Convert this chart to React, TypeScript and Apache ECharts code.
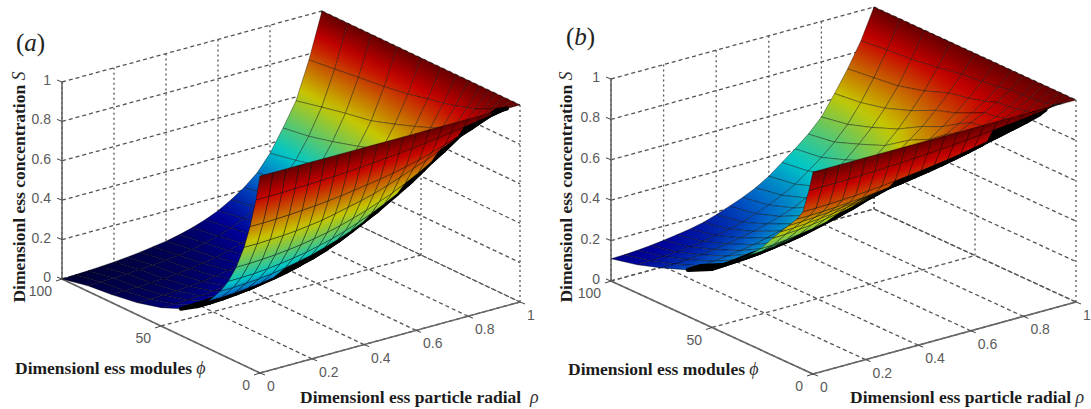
import React, { useEffect, useRef } from "react";
import * as echarts from "echarts";

// Grid of the surfaces
const rhoValues = [0, 0.05, 0.1, 0.15, 0.2, 0.25, 0.3, 0.35, 0.4, 0.45, 0.5, 0.55, 0.6, 0.65, 0.7, 0.75, 0.8, 0.85, 0.9, 0.95, 1];
const phiValues = [0, 2, 5, 8, 12, 16, 20, 26, 32, 40, 50, 62, 75, 87, 100];

// Tick labels
const rhoTicks = [0, 0.2, 0.4, 0.6, 0.8, 1];
const phiTicks = [0, 50, 100];
const sTicks = [0, 0.2, 0.4, 0.6, 0.8, 1];

// Concentration S x 1000, one row per phi, one column per rho
const surfaceA = [
  [1000, 1000, 1000, 1000, 1000, 1000, 1000, 1000, 1000, 1000, 1000, 1000, 1000, 1000, 1000, 1000, 1000, 1000, 1000, 1000, 1000],
  [870, 870, 871, 873, 875, 878, 881, 885, 890, 895, 901, 908, 915, 923, 932, 941, 951, 962, 974, 986, 1000],
  [720, 720, 722, 725, 730, 735, 742, 750, 760, 770, 780, 793, 808, 824, 845, 866, 889, 913, 940, 970, 1000],
  [600, 600, 603, 606, 612, 620, 630, 644, 660, 675, 693, 715, 740, 765, 790, 820, 850, 885, 920, 960, 1000],
  [480, 481, 484, 489, 496, 505, 517, 530, 547, 567, 588, 614, 640, 672, 706, 744, 785, 830, 880, 940, 1000],
  [389, 390, 393, 399, 407, 417, 429, 445, 462, 484, 508, 535, 566, 600, 640, 685, 736, 790, 854, 922, 1000],
  [320, 321, 325, 330, 338, 349, 362, 378, 397, 419, 444, 474, 508, 547, 590, 640, 695, 757, 830, 910, 1000],
  [242, 243, 246, 252, 259, 270, 283, 300, 318, 341, 368, 399, 436, 478, 525, 580, 642, 715, 796, 890, 1000],
  [186, 187, 190, 196, 203, 214, 226, 243, 262, 284, 310, 342, 379, 422, 471, 530, 598, 677, 768, 875, 1000],
  [135, 136, 139, 144, 150, 160, 171, 186, 204, 226, 252, 284, 320, 363, 414, 476, 549, 636, 736, 858, 1000],
  [93, 94, 96, 100, 106, 114, 124, 138, 154, 175, 199, 228, 264, 308, 360, 424, 497, 590, 700, 835, 1000],
  [61, 62, 64, 67, 72, 79, 88, 100, 114, 132, 154, 181, 214, 256, 306, 372, 451, 548, 660, 815, 1000],
  [40, 41, 43, 46, 50, 56, 63, 73, 84, 100, 120, 145, 176, 215, 264, 328, 405, 510, 636, 800, 1000],
  [28, 29, 31, 34, 38, 43, 49, 57, 67, 82, 100, 123, 153, 190, 236, 298, 376, 480, 610, 785, 1000],
  [0, 3, 6, 10, 14, 20, 28, 38, 48, 62, 80, 102, 130, 168, 212, 268, 350, 460, 580, 770, 1000],
];

const surfaceB = [
  [1000, 1000, 1000, 1000, 1000, 1000, 1000, 1000, 1000, 1000, 1000, 1000, 1000, 1000, 1000, 1000, 1000, 1000, 1000, 1000, 1000],
  [900, 900, 901, 902, 904, 906, 909, 912, 916, 920, 925, 930, 936, 942, 948, 955, 962, 970, 979, 989, 1000],
  [780, 781, 783, 786, 790, 795, 801, 808, 816, 824, 833, 843, 854, 866, 879, 893, 908, 924, 942, 970, 1000],
  [730, 731, 733, 737, 742, 748, 755, 763, 772, 782, 793, 805, 818, 832, 847, 866, 886, 908, 933, 965, 1000],
  [680, 682, 686, 691, 698, 706, 716, 727, 739, 752, 766, 782, 799, 817, 836, 856, 876, 899, 925, 960, 1000],
  [630, 632, 637, 643, 651, 661, 673, 687, 702, 718, 735, 755, 775, 796, 819, 841, 864, 889, 917, 955, 1000],
  [580, 583, 588, 595, 604, 615, 628, 643, 660, 678, 698, 721, 745, 771, 797, 823, 850, 879, 910, 952, 1000],
  [500, 503, 510, 520, 530, 544, 560, 578, 600, 624, 650, 680, 710, 745, 780, 808, 838, 870, 905, 948, 1000],
  [440, 443, 449, 458, 470, 485, 503, 523, 545, 570, 597, 629, 665, 699, 735, 770, 806, 842, 882, 935, 1000],
  [370, 373, 379, 388, 400, 414, 431, 450, 472, 497, 525, 556, 590, 627, 667, 710, 755, 805, 860, 925, 1000],
  [290, 293, 300, 310, 320, 333, 350, 370, 390, 417, 450, 484, 520, 563, 610, 660, 710, 772, 840, 915, 1000],
  [230, 232, 237, 245, 254, 266, 280, 297, 316, 340, 366, 398, 432, 473, 520, 578, 642, 715, 795, 893, 1000],
  [180, 182, 186, 192, 200, 210, 222, 236, 254, 274, 298, 330, 368, 415, 465, 525, 590, 668, 760, 875, 1000],
  [140, 142, 146, 151, 158, 167, 178, 192, 209, 233, 258, 288, 325, 372, 422, 480, 550, 640, 745, 865, 1000],
  [110, 112, 116, 122, 130, 140, 150, 165, 185, 210, 235, 265, 305, 355, 405, 460, 527, 625, 730, 850, 1000],
];

// View of each 3D box: screen position of the front corner and of the three axis spans
const viewA = { x0: 260, y0: 373, rx: 260, ry: -71, px: -198, py: -94, sy: -197 };
const viewB = { x0: 813, y0: 374, rx: 263, ry: -72, px: -202, py: -93, sy: -202 };

type View = typeof viewA;

const project = (v: View, rho: number, phi: number, s: number) => [
  v.x0 + v.rx * rho + (v.px * phi) / 100,
  v.y0 + v.ry * rho + (v.py * phi) / 100 + v.sy * s,
];

// Jet colour map, dimmed by the fine black mesh of the original (most in the dark blue part)
const jet = (t: number, shade: number) => {
  const low = t < 0.25 ? 0.5 + 2 * t : 1;
  const f = (d: number) => Math.round(255 * shade * low * Math.max(0, Math.min(1, 1.5 - Math.abs(4 * t - d))));
  return `rgb(${f(3)},${f(2)},${f(1)})`;
};

function surfaceSeries(view: View, table: number[][]) {
  const cells: number[][] = [];
  for (let i = phiValues.length - 2; i >= 0; i--) {
    for (let j = rhoValues.length - 2; j >= 0; j--) cells.push([i, j]);
  }
  const corner = (a: number, b: number) => project(view, rhoValues[b], phiValues[a], table[a][b] / 1000);
  // Signed projected area: its sign flips where the surface folds away from the viewer
  const signedArea = (i: number, j: number) => {
    const pts = [corner(i, j), corner(i, j + 1), corner(i + 1, j + 1), corner(i + 1, j)];
    let area = 0;
    pts.forEach((p, k) => {
      const q = pts[(k + 1) % 4];
      area += p[0] * q[1] - q[0] * p[1];
    });
    return area / 2;
  };
  const isFold = (i: number, j: number) => {
    const here = signedArea(i, j);
    const before = i > 0 ? signedArea(i - 1, j) : here;
    const after = i < phiValues.length - 2 ? signedArea(i + 1, j) : here;
    return here * before < 0 || here * after < 0;
  };
  return {
    type: "custom",
    silent: true,
    data: cells,
    renderItem: (_: any, api: any) => {
      const i = api.value(0);
      const j = api.value(1);
      const corners = [
        [i, j],
        [i, j + 1],
        [i + 1, j + 1],
        [i + 1, j],
      ];
      const values = corners.map(([a, b]) => table[a][b] / 1000);
      const points = corners.map(([a, b]) => api.coord(corner(a, b)));

      const unit = (rhoValues[j + 1] - rhoValues[j]) * ((phiValues[i + 1] - phiValues[i]) / 100);
      const density = Math.abs(signedArea(i, j)) / unit;
      const shade = 0.78 * Math.min(1, Math.pow(density / 11000, 2));

      if (isFold(i, j)) {
        return {
          type: "polygon",
          shape: { points },
          style: { fill: "#000", stroke: "#000", lineWidth: 4, lineJoin: "round" },
        };
      }

      // Colour runs across the cell along the screen direction in which S changes
      const ax = points[1][0] - points[0][0];
      const ay = points[1][1] - points[0][1];
      const bx = points[3][0] - points[0][0];
      const by = points[3][1] - points[0][1];
      const det = ax * by - ay * bx;
      const da = values[1] - values[0];
      const db = values[3] - values[0];
      let gx = det ? (da * by - db * ay) / det : 0;
      let gy = det ? (db * ax - da * bx) / det : 0;
      const len = Math.hypot(gx, gy) || 1;
      gx /= len;
      gy /= len;
      const along = points.map((p: number[]) => p[0] * gx + p[1] * gy);
      const lo = along.indexOf(Math.min(...along));
      const hi = along.indexOf(Math.max(...along));
      const mean = (values[0] + values[1] + values[2] + values[3]) / 4;
      const fill: any =
        values[lo] === values[hi] || lo === hi
          ? jet(mean, shade)
          : {
              type: "linear",
              global: true,
              x: points[lo][0],
              y: points[lo][1],
              x2: points[lo][0] + gx * (along[hi] - along[lo]),
              y2: points[lo][1] + gy * (along[hi] - along[lo]),
              colorStops: [0, 0.25, 0.5, 0.75, 1].map((o) => ({
                offset: o,
                color: jet(values[lo] + (values[hi] - values[lo]) * o, shade),
              })),
            };
      return {
        type: "polygon",
        shape: { points },
        style: { fill, stroke: "rgba(0,0,0,0.45)", lineWidth: 0.8 },
      };
    },
  };
}

function frameSeries(view: View) {
  type Seg = { a: number[]; b: number[]; kind: string };
  const segs: Seg[] = [];
  rhoTicks.forEach((r) => {
    segs.push({ a: [r, 0, 0], b: [r, 100, 0], kind: "dash" });
    segs.push({ a: [r, 100, 0], b: [r, 100, 1], kind: "dot" });
  });
  phiTicks.forEach((p) => {
    segs.push({ a: [0, p, 0], b: [1, p, 0], kind: "dash" });
    segs.push({ a: [1, p, 0], b: [1, p, 1], kind: "dot" });
  });
  sTicks.forEach((s) => {
    segs.push({ a: [0, 100, s], b: [1, 100, s], kind: "dash" });
    segs.push({ a: [1, 100, s], b: [1, 0, s], kind: "dash" });
  });
  segs.push({ a: [0, 100, 0], b: [0, 100, 1], kind: "axis" });
  segs.push({ a: [0, 100, 0], b: [0, 0, 0], kind: "axis" });
  segs.push({ a: [0, 0, 0], b: [1, 0, 0], kind: "axis" });
  return {
    type: "custom",
    silent: true,
    data: segs.map((_, i) => [i]),
    renderItem: (_: any, api: any) => {
      const seg = segs[api.value(0)];
      const p = api.coord(project(view, seg.a[0], seg.a[1], seg.a[2]));
      const q = api.coord(project(view, seg.b[0], seg.b[1], seg.b[2]));
      const style: any =
        seg.kind === "axis"
          ? { stroke: "#666", lineWidth: 1.6 }
          : { stroke: "#555", lineWidth: 1.3, lineDash: seg.kind === "dot" ? [2, 3] : [4, 3] };
      return { type: "line", shape: { x1: p[0], y1: p[1], x2: q[0], y2: q[1] }, style };
    },
  };
}

function tickSeries(view: View) {
  type Tick = { at: number[]; text: string; dx: number; dy: number; align: string; tx: number; ty: number };
  const ticks: Tick[] = [];
  sTicks.forEach((s) => ticks.push({ at: [0, 100, s], text: String(s), dx: -11, dy: -2, align: "right", tx: -5, ty: -2 }));
  phiTicks.forEach((p) => ticks.push({ at: [0, p, 0], text: String(p), dx: -10, dy: 12, align: "right", tx: -6, ty: 2 }));
  rhoTicks.forEach((r) => ticks.push({ at: [r, 0, 0], text: String(r), dx: 7, dy: 13, align: "left", tx: 5, ty: 2 }));
  return {
    type: "custom",
    silent: true,
    data: ticks.map((_, i) => [i]),
    renderItem: (_: any, api: any) => {
      const t = ticks[api.value(0)];
      const p = api.coord(project(view, t.at[0], t.at[1], t.at[2]));
      return {
        type: "group",
        children: [
          {
            type: "line",
            shape: { x1: p[0], y1: p[1], x2: p[0] + t.tx, y2: p[1] + t.ty },
            style: { stroke: "#444", lineWidth: 1 },
          },
          {
            type: "text",
            x: p[0] + t.dx,
            y: p[1] + t.dy,
            style: {
              text: t.text,
              fill: "#5a5a5a",
              font: "14px 'Liberation Sans'",
              textAlign: t.align,
              textVerticalAlign: "middle",
            },
          },
        ],
      };
    },
  };
}

const titleFont = "bold 17.5px 'Liberation Serif'";
const symbolRich = {
  i: { font: "italic 18px 'Liberation Serif'", fill: "#333" },
};

function title(text: string, x: number, y: number, rotate = false) {
  return {
    type: "text",
    x,
    y,
    rotation: rotate ? Math.PI / 2 : 0,
    silent: true,
    style: {
      text,
      rich: symbolRich,
      font: titleFont,
      fill: "#1c1c1c",
      textAlign: rotate ? "center" : "left",
      textVerticalAlign: "middle",
    },
  };
}

function panelMark(text: string, x: number, y: number) {
  return {
    type: "text",
    x,
    y,
    silent: true,
    style: {
      text,
      rich: { i: { font: "italic 25px 'Liberation Serif'", fill: "#222" } },
      font: "25px 'Liberation Serif'",
      fill: "#222",
      textAlign: "left",
      textVerticalAlign: "middle",
    },
  };
}

export default function App() {
  const ref = useRef<HTMLDivElement>(null);
  useEffect(() => {
    const chart = echarts.init(ref.current!, undefined, { renderer: "svg" });
    chart.setOption({
      animation: false,
      backgroundColor: "#fff",
      grid: { left: 0, right: 0, top: 0, bottom: 0 },
      xAxis: { type: "value", min: 0, max: 1091, show: false },
      yAxis: { type: "value", min: 0, max: 409, inverse: true, show: false },
      series: [
        frameSeries(viewA),
        surfaceSeries(viewA, surfaceA),
        tickSeries(viewA),
        frameSeries(viewB),
        surfaceSeries(viewB, surfaceB),
        tickSeries(viewB),
      ],
      graphic: [
        panelMark("({i|a})", 16, 42),
        panelMark("({i|b})", 566, 36),
        title("Dimensionl ess concentration {i|S}", 19, 187, true),
        title("Dimensionl ess concentration {i|S}", 566, 187, true),
        title("Dimensionl ess modules {i|ϕ}", 15, 368),
        title("Dimensionl ess modules {i|ϕ}", 568, 369),
        title("Dimensionl ess particle radial  {i|ρ}", 300, 397),
        title("Dimensionl ess particle radial {i|ρ}", 850, 397),
      ],
    });
    return () => chart.dispose();
  }, []);
  return <div ref={ref} style={{ position: "absolute", left: 0, top: 0, width: 1091, height: 409 }} />;
}
